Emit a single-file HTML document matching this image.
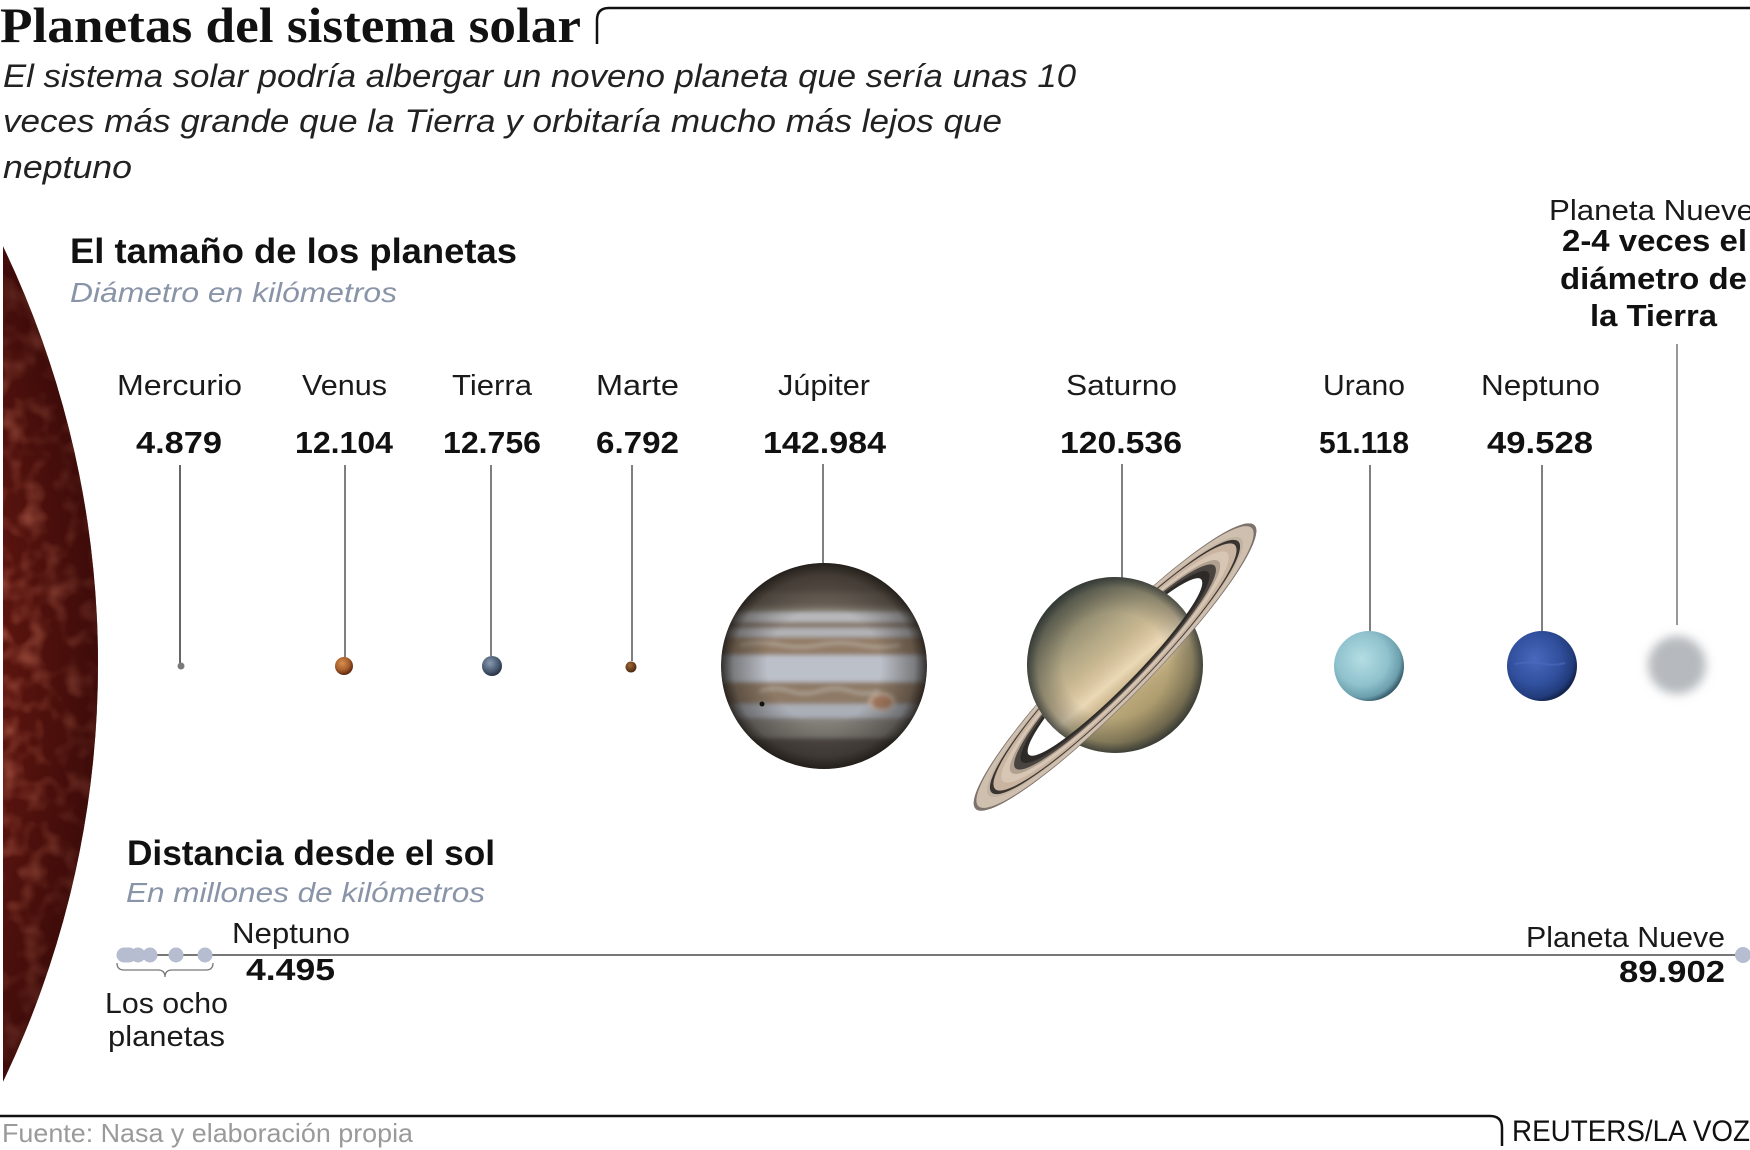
<!DOCTYPE html>
<html><head><meta charset="utf-8">
<style>
html,body{margin:0;padding:0;background:#fff;}
svg{display:block;}
.s{font-family:"Liberation Sans",sans-serif;}
.t{font-family:"Liberation Serif",serif;font-weight:bold;}
.n{font-family:"Liberation Sans",sans-serif;font-size:29px;fill:#1a1a1a;}
.b{font-family:"Liberation Sans",sans-serif;font-size:31px;font-weight:bold;fill:#111;}
.h{font-family:"Liberation Sans",sans-serif;font-size:35px;font-weight:bold;fill:#111;}
.i{font-family:"Liberation Sans",sans-serif;font-size:28px;font-style:italic;fill:#8a94a8;}
.sub{font-family:"Liberation Sans",sans-serif;font-size:32px;font-style:italic;fill:#222;}
</style></head>
<body>
<svg width="1750" height="1150" viewBox="0 0 1750 1150" xmlns="http://www.w3.org/2000/svg">
<defs>
  <clipPath id="sunclip"><circle cx="-868" cy="664" r="966"/></clipPath>
  <filter id="sunNoise" x="0" y="0" width="100%" height="100%">
    <feTurbulence type="fractalNoise" baseFrequency="0.045" numOctaves="2" seed="4"/>
    <feColorMatrix type="matrix" values="0 0 0 0 0.70  0 0 0 0 0.20  0 0 0 0 0.12  1.4 0 0 0 -0.62"/>
  </filter>
  <radialGradient id="sunLimb" gradientUnits="userSpaceOnUse" cx="-868" cy="664" r="966">
    <stop offset="0.90" stop-color="#2a0505" stop-opacity="0"/>
    <stop offset="1" stop-color="#2a0505" stop-opacity="0.6"/>
  </radialGradient>
  <filter id="blur5" x="-50%" y="-50%" width="200%" height="200%"><feGaussianBlur stdDeviation="5"/></filter>
  <filter id="blur2" x="-10%" y="-10%" width="120%" height="120%"><feGaussianBlur stdDeviation="2"/></filter>
  <radialGradient id="venusG" cx="40%" cy="35%" r="65%"><stop offset="0" stop-color="#d89050"/><stop offset="0.6" stop-color="#a85e2a"/><stop offset="1" stop-color="#5a2810"/></radialGradient>
  <radialGradient id="earthG" cx="40%" cy="35%" r="65%"><stop offset="0" stop-color="#8a9ab0"/><stop offset="0.6" stop-color="#4e6078"/><stop offset="1" stop-color="#2a3444"/></radialGradient>
  <radialGradient id="marsG" cx="40%" cy="35%" r="65%"><stop offset="0" stop-color="#a06838"/><stop offset="1" stop-color="#4a2810"/></radialGradient>
  <radialGradient id="uranusG" cx="40%" cy="40%" r="62%"><stop offset="0" stop-color="#b4dde4"/><stop offset="0.6" stop-color="#8fc2cd"/><stop offset="0.88" stop-color="#6c9fad"/><stop offset="1" stop-color="#3c6170"/></radialGradient>
  <radialGradient id="neptuneG" cx="40%" cy="40%" r="62%"><stop offset="0" stop-color="#4a68bc"/><stop offset="0.6" stop-color="#304f9c"/><stop offset="0.88" stop-color="#223c7c"/><stop offset="1" stop-color="#142450"/></radialGradient>
  <clipPath id="jupClip"><circle cx="824" cy="666" r="103"/></clipPath>
  <radialGradient id="jupLimb" gradientUnits="userSpaceOnUse" cx="824" cy="666" r="103">
    <stop offset="0.55" stop-color="#1a1612" stop-opacity="0"/>
    <stop offset="0.88" stop-color="#1a1612" stop-opacity="0.4"/>
    <stop offset="1" stop-color="#1a1612" stop-opacity="0.85"/>
  </radialGradient>
  <linearGradient id="satBands" x1="0" y1="-90" x2="0" y2="90" gradientUnits="userSpaceOnUse">
    <stop offset="0" stop-color="#5e6050"/>
    <stop offset="0.2" stop-color="#948e72"/>
    <stop offset="0.33" stop-color="#b4a886"/>
    <stop offset="0.42" stop-color="#c6b690"/>
    <stop offset="0.5" stop-color="#dac6a2"/>
    <stop offset="0.56" stop-color="#ead8b6"/>
    <stop offset="0.62" stop-color="#d2be96"/>
    <stop offset="0.7" stop-color="#baa87a"/>
    <stop offset="0.83" stop-color="#a8976a"/>
    <stop offset="1" stop-color="#7e7252"/>
  </linearGradient>
  <radialGradient id="satLimb" gradientUnits="userSpaceOnUse" cx="1115" cy="665" r="88">
    <stop offset="0.6" stop-color="#20282a" stop-opacity="0"/>
    <stop offset="0.88" stop-color="#20282a" stop-opacity="0.3"/>
    <stop offset="1" stop-color="#20282a" stop-opacity="0.75"/>
  </radialGradient>
  <clipPath id="satClip"><circle cx="0" cy="0" r="88"/></clipPath>
  <mask id="ringMask" maskUnits="userSpaceOnUse" x="-220" y="-60" width="440" height="120">
    <ellipse cx="0" cy="0" rx="199" ry="33" fill="#fff"/>
    <ellipse cx="0" cy="0" rx="123" ry="20" fill="#000"/>
  </mask>
  <clipPath id="frontClip"><rect x="-220" y="0" width="440" height="60"/></clipPath>
  <g id="ringC">
    <ellipse cx="0" cy="0" rx="199" ry="33" fill="#7e736c"/>
    <ellipse cx="0" cy="0" rx="195" ry="32.3" fill="#cfbfaf"/>
    <ellipse cx="0" cy="0" rx="180" ry="29.8" fill="#c2b2a2"/>
    <ellipse cx="0" cy="0" rx="176" ry="29.1" fill="#3a3430"/>
    <ellipse cx="0" cy="0" rx="171" ry="28.3" fill="#c8b4a0"/>
    <ellipse cx="0" cy="0" rx="160" ry="26.5" fill="#d8c6b4"/>
    <ellipse cx="0" cy="0" rx="148" ry="24.5" fill="#b0a090"/>
    <ellipse cx="0" cy="0" rx="142" ry="23.5" fill="#4a4440"/>
    <ellipse cx="0" cy="0" rx="133" ry="22" fill="#2e2a28"/>
  </g>
</defs>
<rect width="1750" height="1150" fill="#fff"/>

<!-- Sun -->
<g clip-path="url(#sunclip)">
  <rect x="3" y="230" width="110" height="870" fill="#5c150f"/>
  <rect x="3" y="230" width="110" height="870" filter="url(#sunNoise)"/>
  <rect x="3" y="230" width="110" height="870" fill="url(#sunLimb)"/>
</g>

<!-- Title -->
<text class="t" x="0" y="42" font-size="50" fill="#111" textLength="581" lengthAdjust="spacingAndGlyphs">Planetas del sistema solar</text>
<path d="M597 44 V20 Q597 8 609 8 H1750" fill="none" stroke="#111" stroke-width="2.5"/>
<text class="sub" x="3" y="87" textLength="1073" lengthAdjust="spacingAndGlyphs">El sistema solar podría albergar un noveno planeta que sería unas 10</text>
<text class="sub" x="3" y="132" textLength="999" lengthAdjust="spacingAndGlyphs">veces más grande que la Tierra y orbitaría mucho más lejos que</text>
<text class="sub" x="3" y="178" textLength="129" lengthAdjust="spacingAndGlyphs">neptuno</text>

<!-- Size section -->
<text class="h" x="70" y="263" textLength="447" lengthAdjust="spacingAndGlyphs">El tamaño de los planetas</text>
<text class="i" x="70" y="302" textLength="327" lengthAdjust="spacingAndGlyphs">Diámetro en kilómetros</text>

<g>
<text class="n" x="117" y="395" textLength="125" lengthAdjust="spacingAndGlyphs">Mercurio</text>
<text class="b" x="136" y="453" textLength="86" lengthAdjust="spacingAndGlyphs">4.879</text>
<text class="n" x="302" y="395" textLength="85" lengthAdjust="spacingAndGlyphs">Venus</text>
<text class="b" x="295" y="453" textLength="98" lengthAdjust="spacingAndGlyphs">12.104</text>
<text class="n" x="452" y="395" textLength="80" lengthAdjust="spacingAndGlyphs">Tierra</text>
<text class="b" x="443" y="453" textLength="98" lengthAdjust="spacingAndGlyphs">12.756</text>
<text class="n" x="596" y="395" textLength="83" lengthAdjust="spacingAndGlyphs">Marte</text>
<text class="b" x="596" y="453" textLength="83" lengthAdjust="spacingAndGlyphs">6.792</text>
<text class="n" x="778" y="395" textLength="92" lengthAdjust="spacingAndGlyphs">Júpiter</text>
<text class="b" x="763" y="453" textLength="123" lengthAdjust="spacingAndGlyphs">142.984</text>
<text class="n" x="1066" y="395" textLength="111" lengthAdjust="spacingAndGlyphs">Saturno</text>
<text class="b" x="1060" y="453" textLength="122" lengthAdjust="spacingAndGlyphs">120.536</text>
<text class="n" x="1323" y="395" textLength="82" lengthAdjust="spacingAndGlyphs">Urano</text>
<text class="b" x="1319" y="453" textLength="90" lengthAdjust="spacingAndGlyphs">51.118</text>
<text class="n" x="1481" y="395" textLength="119" lengthAdjust="spacingAndGlyphs">Neptuno</text>
<text class="b" x="1487" y="453" textLength="106" lengthAdjust="spacingAndGlyphs">49.528</text>
</g>

<!-- Planeta Nueve label -->
<text class="n" x="1549" y="220" textLength="205" lengthAdjust="spacingAndGlyphs">Planeta Nueve</text>
<text class="b" x="1562" y="251" textLength="185" lengthAdjust="spacingAndGlyphs">2-4 veces el</text>
<text class="b" x="1560" y="289" textLength="187" lengthAdjust="spacingAndGlyphs">diámetro de</text>
<text class="b" x="1590" y="326" textLength="127" lengthAdjust="spacingAndGlyphs">la Tierra</text>

<!-- leader lines -->
<g stroke="#555" stroke-width="1.5">
  <line x1="180" y1="465" x2="180" y2="663" stroke="#333"/>
  <line x1="345" y1="465" x2="345" y2="657"/>
  <line x1="491" y1="465" x2="491" y2="656"/>
  <line x1="632" y1="465" x2="632" y2="661"/>
  <line x1="823" y1="464" x2="823" y2="564"/>
  <line x1="1122" y1="464" x2="1122" y2="578"/>
  <line x1="1370" y1="465" x2="1370" y2="631"/>
  <line x1="1542" y1="465" x2="1542" y2="631"/>
  <line x1="1677" y1="344" x2="1677" y2="625" stroke="#777"/>
</g>

<!-- small planets -->
<circle cx="181" cy="666" r="3.5" fill="#7a7a7a"/>
<circle cx="344" cy="666" r="9" fill="url(#venusG)"/>
<circle cx="492" cy="666" r="10" fill="url(#earthG)"/>
<circle cx="631" cy="667" r="5.5" fill="url(#marsG)"/>

<!-- Jupiter -->
<g clip-path="url(#jupClip)">
  <g filter="url(#blur2)">
    <rect x="710" y="555" width="228" height="55" fill="#5e564e"/>
    <rect x="710" y="592" width="228" height="16" fill="#6a6258"/>
    <rect x="710" y="606" width="228" height="7" fill="#7c7468"/>
    <rect x="710" y="612" width="228" height="10" fill="#b8b8bc"/>
    <rect x="710" y="622" width="228" height="6" fill="#85786a"/>
    <rect x="710" y="628" width="228" height="9" fill="#b2b2b6"/>
    <rect x="710" y="637" width="228" height="18" fill="#927c66"/>
    <path d="M740 645 q20 -4 40 0 t40 0 t40 0 t40 0" stroke="#b6aa9c" stroke-width="2.5" fill="none"/>
    <rect x="710" y="655" width="228" height="27" fill="#bcc0c8"/>
    <rect x="710" y="682" width="228" height="22" fill="#8e7a66"/>
    <path d="M760 691 q15 -5 30 0 t30 0 t30 0 t30 0" stroke="#b4aa9e" stroke-width="2.5" fill="none"/>
    <rect x="710" y="704" width="228" height="14" fill="#aaaeb6"/>
    <rect x="710" y="718" width="228" height="20" fill="#84807a"/>
    <rect x="710" y="738" width="228" height="40" fill="#56504c"/>
    <ellipse cx="882" cy="702" rx="12" ry="8" fill="#a87c60" stroke="#c8b8a8" stroke-width="2"/>
  </g>
  <circle cx="762" cy="704" r="2.5" fill="#111"/>
  <circle cx="824" cy="666" r="103" fill="url(#jupLimb)"/>
</g>

<!-- Saturn -->
<g transform="translate(1115,667) rotate(-45.5)">
  <use href="#ringC" mask="url(#ringMask)"/>
</g>
<g transform="translate(1115,665) rotate(-40)">
  <g clip-path="url(#satClip)">
    <rect x="-90" y="-90" width="180" height="180" fill="url(#satBands)"/>
  </g>
</g>
<circle cx="1115" cy="665" r="88" fill="url(#satLimb)"/>
<g transform="translate(1115,667) rotate(-45.5)">
  <g clip-path="url(#frontClip)">
    <use href="#ringC" mask="url(#ringMask)"/>
  </g>
</g>

<!-- Uranus, Neptune, Planet Nine -->
<circle cx="1369" cy="666" r="35" fill="url(#uranusG)"/>
<circle cx="1542" cy="666" r="35" fill="url(#neptuneG)"/>
<path d="M1515 664 q15 -3 30 0 q10 2 20 -1" stroke="#4c6ac0" stroke-width="2" fill="none" opacity="0.6"/>
<circle cx="1677" cy="665" r="29" fill="#b6babe" filter="url(#blur5)"/>

<!-- Distance section -->
<text class="h" x="127" y="865" textLength="368" lengthAdjust="spacingAndGlyphs">Distancia desde el sol</text>
<text class="i" x="126" y="902" textLength="359" lengthAdjust="spacingAndGlyphs">En millones de kilómetros</text>
<line x1="123" y1="955" x2="1741" y2="955" stroke="#777" stroke-width="2"/>
<g fill="#b7bdd0">
  <circle cx="124" cy="955" r="7.5"/>
  <circle cx="126" cy="955" r="7.5"/>
  <circle cx="127" cy="955" r="7.5"/>
  <circle cx="129" cy="955" r="7.5"/>
  <circle cx="138" cy="955" r="7.5"/>
  <circle cx="150" cy="955" r="7.5"/>
  <circle cx="176" cy="955" r="7.5"/>
  <circle cx="205" cy="955" r="7.5"/>
  <circle cx="1743" cy="955" r="8"/>
</g>
<path d="M117 963 Q117 970 124 970 L158 970 Q165 970 165 977 Q165 970 172 970 L206 970 Q213 970 213 963" stroke="#777" stroke-width="1.3" fill="none"/>
<text class="n" x="232" y="943" textLength="118" lengthAdjust="spacingAndGlyphs">Neptuno</text>
<text class="b" x="246" y="980" textLength="89" lengthAdjust="spacingAndGlyphs">4.495</text>
<text class="n" x="105" y="1013" textLength="123" lengthAdjust="spacingAndGlyphs">Los ocho</text>
<text class="n" x="108" y="1046" textLength="117" lengthAdjust="spacingAndGlyphs">planetas</text>
<text class="n" x="1526" y="947" textLength="199" lengthAdjust="spacingAndGlyphs">Planeta Nueve</text>
<text class="b" x="1619" y="982" textLength="106" lengthAdjust="spacingAndGlyphs">89.902</text>

<!-- Footer -->
<path d="M0 1116 H1490 Q1502 1116 1502 1128 V1146" fill="none" stroke="#111" stroke-width="2.5"/>
<text class="s" x="2" y="1142" font-size="26" fill="#9a9a9a" textLength="411" lengthAdjust="spacingAndGlyphs">Fuente: Nasa y elaboración propia</text>
<text class="s" x="1512" y="1141" font-size="30" fill="#111" textLength="238" lengthAdjust="spacingAndGlyphs">REUTERS/LA VOZ</text>
</svg>
</body></html>
